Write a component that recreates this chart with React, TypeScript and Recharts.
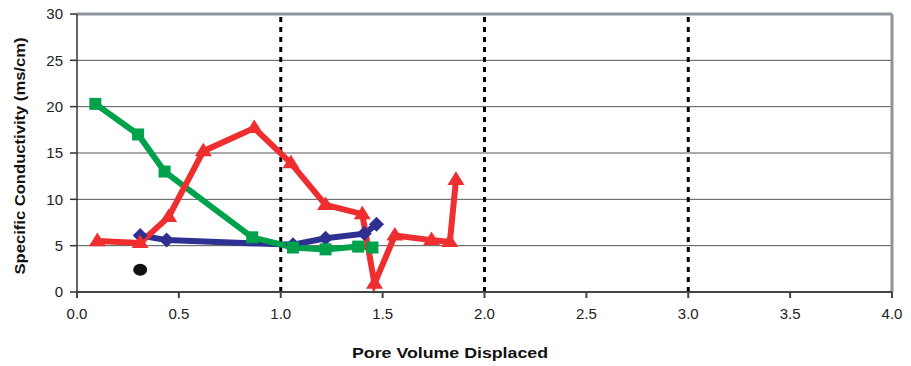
import {
  ComposedChart,
  Line,
  Scatter,
  XAxis,
  YAxis,
  CartesianGrid,
  ReferenceLine,
} from "recharts";

const greenX = [0.09, 0.3, 0.43, 0.86, 1.06, 1.22, 1.38, 1.45];
const greenY = [20.3, 17.0, 13.0, 5.9, 4.8, 4.6, 4.9, 4.8];

const blueX = [0.31, 0.44, 1.06, 1.22, 1.41, 1.47];
const blueY = [6.1, 5.6, 5.1, 5.8, 6.3, 7.3];

const redX = [0.1, 0.31, 0.45, 0.62, 0.87, 1.05, 1.22, 1.4, 1.46, 1.56, 1.74, 1.83, 1.86];
const redY = [5.5, 5.3, 8.1, 15.2, 17.7, 13.9, 9.4, 8.4, 0.9, 6.1, 5.6, 5.4, 12.1];

const blackX = [0.31];
const blackY = [2.4];

const xTicks = [0, 0.5, 1, 1.5, 2, 2.5, 3, 3.5, 4];
const yTicks = [0, 5, 10, 15, 20, 25, 30];
const dottedX = [1, 2, 3];

const toRows = (xs: number[], ys: number[]) => xs.map((x, i) => ({ x, y: ys[i] }));

const greenData = toRows(greenX, greenY);
const blueData = toRows(blueX, blueY);
const redData = toRows(redX, redY);
const blackData = toRows(blackX, blackY);

const GREEN = "#00a14b";
const BLUE = "#2e3192";
const RED = "#ee2e2f";
const FONT = "Liberation Sans, Arial, sans-serif";

const Square = (props: any) => {
  const { cx, cy, index } = props;
  if (cx == null || cy == null) return null;
  return <rect key={index} x={cx - 6} y={cy - 6} width={12} height={12} fill={GREEN} />;
};

const Diamond = (props: any) => {
  const { cx, cy, index } = props;
  if (cx == null || cy == null) return null;
  const r = 7.5;
  return (
    <polygon
      key={index}
      points={`${cx},${cy - r} ${cx + r},${cy} ${cx},${cy + r} ${cx - r},${cy}`}
      fill={BLUE}
    />
  );
};

const Triangle = (props: any) => {
  const { cx, cy, index } = props;
  if (cx == null || cy == null) return null;
  const r = 8.5;
  return (
    <polygon
      key={index}
      points={`${cx},${cy - r} ${cx + r},${cy + r * 0.6} ${cx - r},${cy + r * 0.6}`}
      fill={RED}
    />
  );
};

const Dot = (props: any) => {
  const { cx, cy } = props;
  return <ellipse cx={cx} cy={cy} rx={7} ry={6} fill="#111" />;
};

const XTitle = () => (
  <text
    x={450}
    y={358}
    textAnchor="middle"
    fontFamily={FONT}
    fontSize={14}
    fontWeight="bold"
    fill="#111"
    textLength={196}
    lengthAdjust="spacingAndGlyphs"
  >
    Pore Volume Displaced
  </text>
);

const YTitle = () => (
  <text
    x={0}
    y={0}
    transform="translate(25,156) rotate(-90)"
    textAnchor="middle"
    fontFamily={FONT}
    fontSize={14}
    fontWeight="bold"
    fill="#111"
    textLength={237}
    lengthAdjust="spacingAndGlyphs"
  >
    Specific Conductivity (ms/cm)
  </text>
);

const tickStyle = { fontFamily: FONT, fontSize: 15, fill: "#222" };

export default function App() {
  return (
    <div style={{ position: "absolute", left: 0, top: 0, background: "#fff" }}>
      <ComposedChart
        width={911}
        height={366}
        margin={{ top: 14, right: 19, left: 0, bottom: 0 }}
      >
        <CartesianGrid vertical={false} stroke="#555" strokeWidth={1} />
        <XAxis
          dataKey="x"
          type="number"
          domain={[0, 4]}
          ticks={xTicks}
          tickFormatter={(v: number) => v.toFixed(1)}
          allowDuplicatedCategory={false}
          height={74}
          tick={tickStyle}
          tickSize={6}
          tickMargin={10}
          stroke="#444"
          strokeWidth={2}
          label={<XTitle />}
        />
        <YAxis
          dataKey="y"
          type="number"
          domain={[0, 30]}
          ticks={yTicks}
          width={77}
          tick={tickStyle}
          tickSize={7}
          tickMargin={7}
          stroke="#333"
          strokeWidth={1.5}
          label={<YTitle />}
        />
        <ReferenceLine y={30} stroke="#8f959b" strokeWidth={3} />
        <ReferenceLine x={4} stroke="#8f959b" strokeWidth={3} />
        {dottedX.map((v) => (
          <ReferenceLine key={v} x={v} stroke="#000" strokeWidth={3} strokeDasharray="5 5" />
        ))}
        <Line
          data={blueData}
          dataKey="y"
          stroke={BLUE}
          strokeWidth={6}
          dot={Diamond}
          activeDot={false}
          isAnimationActive={false}
        />
        <Line
          data={greenData}
          dataKey="y"
          stroke={GREEN}
          strokeWidth={6}
          dot={Square}
          activeDot={false}
          isAnimationActive={false}
        />
        <Line
          data={redData}
          dataKey="y"
          stroke={RED}
          strokeWidth={6}
          dot={Triangle}
          activeDot={false}
          isAnimationActive={false}
        />
        <Scatter data={blackData} dataKey="y" shape={Dot} isAnimationActive={false} />
      </ComposedChart>
    </div>
  );
}
